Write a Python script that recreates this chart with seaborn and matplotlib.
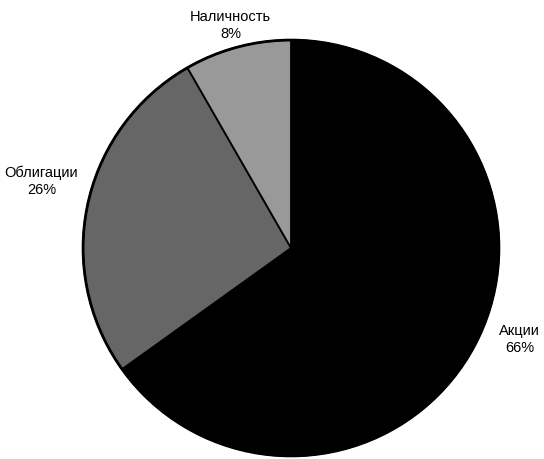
import matplotlib
matplotlib.use("Agg")
import matplotlib.pyplot as plt
import seaborn as sns
import numpy as np

categories = ["Акции", "Облигации", "Наличность"]
shares = [65.1, 26.6, 8.3]          # wedge sizes as drawn
pct_labels = ["66%", "26%", "8%"]   # percentages as printed
colors = ["#000000", "#666666", "#999999"]
label_pos = [(1.10, -0.44), (-1.20, 0.32), (-0.29, 1.07)]

sns.set_style("white")
plt.rcParams["font.family"] = ["Liberation Sans", "DejaVu Sans"]
plt.rcParams["text.color"] = "black"

fig = plt.figure(figsize=(5.44, 4.59), dpi=100)
ax = fig.add_axes([81 / 544, (459 - 248 - 210) / 459, 420 / 544, 420 / 459])
wedges, _ = ax.pie(shares, colors=colors, startangle=90, counterclock=False,
                   wedgeprops=dict(edgecolor="black", linewidth=1.3))
ax.add_patch(plt.Circle((0, 0), 1, fill=False, edgecolor="black", linewidth=2.0))
for cat, p, (x, y) in zip(categories, pct_labels, label_pos):
    ax.text(x, y, f"{cat}\n{p}", ha="center", va="center", fontsize=10.5,
            linespacing=1.3, color="black")
ax.set_xlim(-1.01, 1.01)
ax.set_ylim(-1.01, 1.01)
ax.axis("off")
fig.savefig("out.png", dpi=100)
